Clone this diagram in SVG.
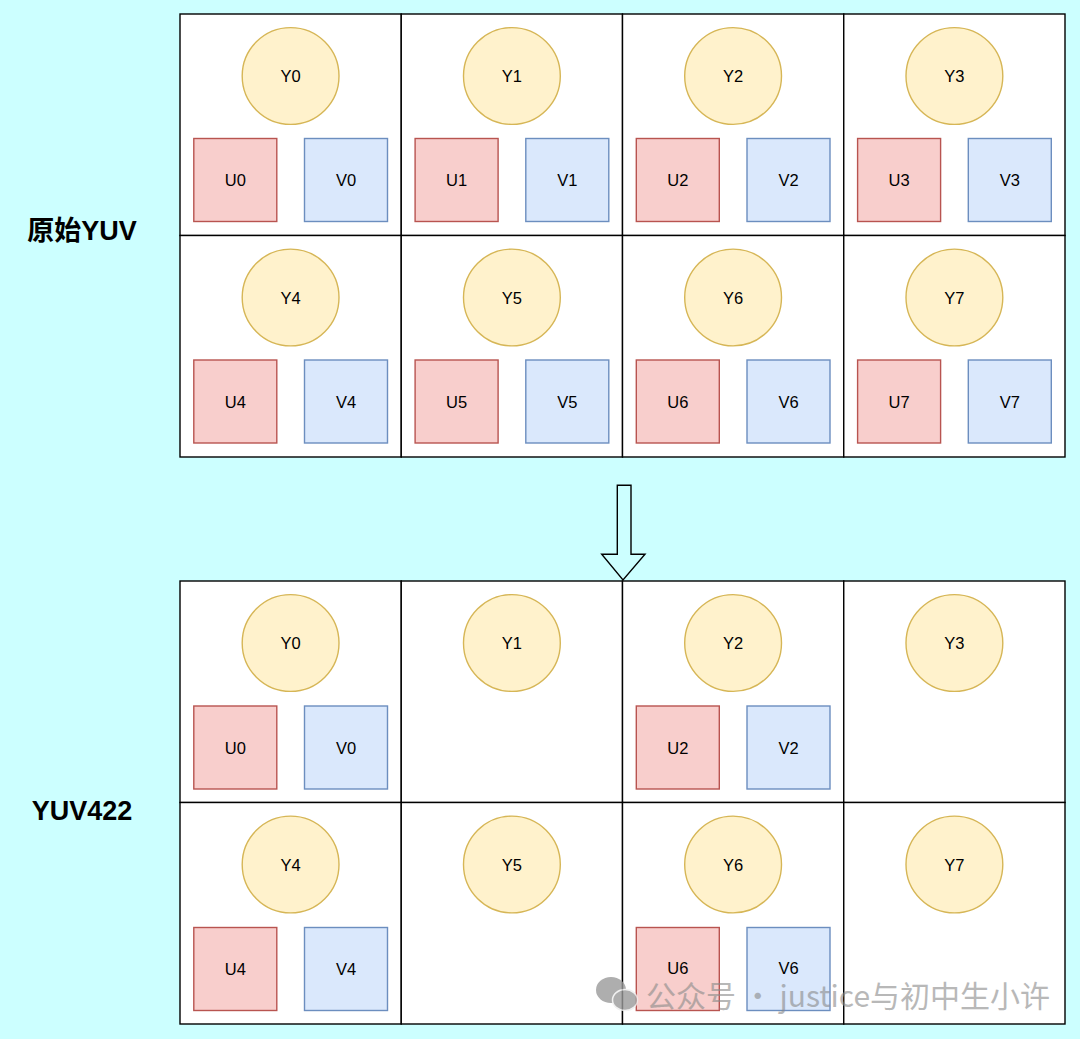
<svg xmlns="http://www.w3.org/2000/svg" width="1080" height="1039" viewBox="0 0 1080 1039">
<defs>
<style>
.bg{fill:#ccffff}
.cell{fill:#ffffff;stroke:#000000;stroke-width:1.4}
.y{fill:#fff2cc;stroke:#d6b656;stroke-width:1.4}
.u{fill:#f8cecc;stroke:#b85450;stroke-width:1.4}
.v{fill:#dae8fc;stroke:#6c8ebf;stroke-width:1.4}
.t{font-family:"Liberation Sans",Arial,sans-serif;font-size:16.5px;fill:#000;text-anchor:middle}
.lbl{font-family:"Liberation Sans","Noto Sans CJK SC",sans-serif;font-size:27px;font-weight:bold;fill:#000;text-anchor:middle}
.wm{font-family:"Noto Sans CJK SC","Noto Sans",sans-serif;font-size:30px;fill:#8a8a8a;opacity:0.75}
</style>
</defs>
<rect class="bg" x="0" y="0" width="1080" height="1039"/>

<g id="label-original"><text class="lbl" x="82" y="240">原始YUV</text></g>
<g id="label-yuv422"><text class="lbl" x="82" y="820">YUV422</text></g>

<!-- Top grid -->
<g id="top-grid">
<g id="t-cell0"><rect class="cell" x="180" y="14" width="221.25" height="221.5"/>
<g id="t-y0"><circle class="y" cx="290.6" cy="76" r="48.4"/><text class="t" x="290.6" y="82">Y0</text></g>
<g id="t-u0"><rect class="u" x="193.8" y="138.5" width="83" height="83"/><text class="t" x="235.3" y="186">U0</text></g>
<g id="t-v0"><rect class="v" x="304.5" y="138.5" width="83" height="83"/><text class="t" x="346" y="186">V0</text></g></g>
<g id="t-cell1"><rect class="cell" x="401.25" y="14" width="221.25" height="221.5"/>
<g id="t-y1"><circle class="y" cx="511.9" cy="76" r="48.4"/><text class="t" x="511.9" y="82">Y1</text></g>
<g id="t-u1"><rect class="u" x="415.1" y="138.5" width="83" height="83"/><text class="t" x="456.6" y="186">U1</text></g>
<g id="t-v1"><rect class="v" x="525.8" y="138.5" width="83" height="83"/><text class="t" x="567.3" y="186">V1</text></g></g>
<g id="t-cell2"><rect class="cell" x="622.5" y="14" width="221.25" height="221.5"/>
<g id="t-y2"><circle class="y" cx="733.1" cy="76" r="48.4"/><text class="t" x="733.1" y="82">Y2</text></g>
<g id="t-u2"><rect class="u" x="636.3" y="138.5" width="83" height="83"/><text class="t" x="677.8" y="186">U2</text></g>
<g id="t-v2"><rect class="v" x="747" y="138.5" width="83" height="83"/><text class="t" x="788.5" y="186">V2</text></g></g>
<g id="t-cell3"><rect class="cell" x="843.75" y="14" width="221.25" height="221.5"/>
<g id="t-y3"><circle class="y" cx="954.4" cy="76" r="48.4"/><text class="t" x="954.4" y="82">Y3</text></g>
<g id="t-u3"><rect class="u" x="857.6" y="138.5" width="83" height="83"/><text class="t" x="899.1" y="186">U3</text></g>
<g id="t-v3"><rect class="v" x="968.3" y="138.5" width="83" height="83"/><text class="t" x="1009.8" y="186">V3</text></g></g>

<g id="t-cell4"><rect class="cell" x="180" y="235.5" width="221.25" height="221.5"/>
<g id="t-y4"><circle class="y" cx="290.6" cy="297.5" r="48.4"/><text class="t" x="290.6" y="303.5">Y4</text></g>
<g id="t-u4"><rect class="u" x="193.8" y="360" width="83" height="83"/><text class="t" x="235.3" y="407.5">U4</text></g>
<g id="t-v4"><rect class="v" x="304.5" y="360" width="83" height="83"/><text class="t" x="346" y="407.5">V4</text></g></g>
<g id="t-cell5"><rect class="cell" x="401.25" y="235.5" width="221.25" height="221.5"/>
<g id="t-y5"><circle class="y" cx="511.9" cy="297.5" r="48.4"/><text class="t" x="511.9" y="303.5">Y5</text></g>
<g id="t-u5"><rect class="u" x="415.1" y="360" width="83" height="83"/><text class="t" x="456.6" y="407.5">U5</text></g>
<g id="t-v5"><rect class="v" x="525.8" y="360" width="83" height="83"/><text class="t" x="567.3" y="407.5">V5</text></g></g>
<g id="t-cell6"><rect class="cell" x="622.5" y="235.5" width="221.25" height="221.5"/>
<g id="t-y6"><circle class="y" cx="733.1" cy="297.5" r="48.4"/><text class="t" x="733.1" y="303.5">Y6</text></g>
<g id="t-u6"><rect class="u" x="636.3" y="360" width="83" height="83"/><text class="t" x="677.8" y="407.5">U6</text></g>
<g id="t-v6"><rect class="v" x="747" y="360" width="83" height="83"/><text class="t" x="788.5" y="407.5">V6</text></g></g>
<g id="t-cell7"><rect class="cell" x="843.75" y="235.5" width="221.25" height="221.5"/>
<g id="t-y7"><circle class="y" cx="954.4" cy="297.5" r="48.4"/><text class="t" x="954.4" y="303.5">Y7</text></g>
<g id="t-u7"><rect class="u" x="857.6" y="360" width="83" height="83"/><text class="t" x="899.1" y="407.5">U7</text></g>
<g id="t-v7"><rect class="v" x="968.3" y="360" width="83" height="83"/><text class="t" x="1009.8" y="407.5">V7</text></g></g>
</g>

<!-- Bottom grid -->
<g id="bottom-grid">
<g id="b-cell0"><rect class="cell" x="180" y="581" width="221.25" height="221.5"/>
<g id="b-y0"><circle class="y" cx="290.6" cy="643" r="48.4"/><text class="t" x="290.6" y="649">Y0</text></g>
<g id="b-u0"><rect class="u" x="193.8" y="706" width="83" height="83"/><text class="t" x="235.3" y="753.5">U0</text></g>
<g id="b-v0"><rect class="v" x="304.5" y="706" width="83" height="83"/><text class="t" x="346" y="753.5">V0</text></g></g>
<g id="b-cell1"><rect class="cell" x="401.25" y="581" width="221.25" height="221.5"/>
<g id="b-y1"><circle class="y" cx="511.9" cy="643" r="48.4"/><text class="t" x="511.9" y="649">Y1</text></g></g>
<g id="b-cell2"><rect class="cell" x="622.5" y="581" width="221.25" height="221.5"/>
<g id="b-y2"><circle class="y" cx="733.1" cy="643" r="48.4"/><text class="t" x="733.1" y="649">Y2</text></g>
<g id="b-u2"><rect class="u" x="636.3" y="706" width="83" height="83"/><text class="t" x="677.8" y="753.5">U2</text></g>
<g id="b-v2"><rect class="v" x="747" y="706" width="83" height="83"/><text class="t" x="788.5" y="753.5">V2</text></g></g>
<g id="b-cell3"><rect class="cell" x="843.75" y="581" width="221.25" height="221.5"/>
<g id="b-y3"><circle class="y" cx="954.4" cy="643" r="48.4"/><text class="t" x="954.4" y="649">Y3</text></g></g>

<g id="b-cell4"><rect class="cell" x="180" y="802.5" width="221.25" height="221.5"/>
<g id="b-y4"><circle class="y" cx="290.6" cy="864.5" r="48.4"/><text class="t" x="290.6" y="870.5">Y4</text></g>
<g id="b-u4"><rect class="u" x="193.8" y="927.5" width="83" height="83"/><text class="t" x="235.3" y="975">U4</text></g>
<g id="b-v4"><rect class="v" x="304.5" y="927.5" width="83" height="83"/><text class="t" x="346" y="975">V4</text></g></g>
<g id="b-cell5"><rect class="cell" x="401.25" y="802.5" width="221.25" height="221.5"/>
<g id="b-y5"><circle class="y" cx="511.9" cy="864.5" r="48.4"/><text class="t" x="511.9" y="870.5">Y5</text></g></g>
<g id="b-cell6"><rect class="cell" x="622.5" y="802.5" width="221.25" height="221.5"/>
<g id="b-y6"><circle class="y" cx="733.1" cy="864.5" r="48.4"/><text class="t" x="733.1" y="870.5">Y6</text></g>
<g id="b-u6"><rect class="u" x="636.3" y="927.5" width="83" height="83"/><text class="t" x="677.8" y="974">U6</text></g>
<g id="b-v6"><rect class="v" x="747" y="927.5" width="83" height="83"/><text class="t" x="788.5" y="974">V6</text></g></g>
<g id="b-cell7"><rect class="cell" x="843.75" y="802.5" width="221.25" height="221.5"/>
<g id="b-y7"><circle class="y" cx="954.4" cy="864.5" r="48.4"/><text class="t" x="954.4" y="870.5">Y7</text></g></g>
</g>

<g id="connectors">
<polygon points="617.3,485.3 631,485.3 631,554.3 645,554.3 623,580 601.7,554.3 617.3,554.3" fill="none" stroke="#000" stroke-width="1.4" stroke-linejoin="miter"/>
</g>

<g id="watermark" opacity="0.8">
<ellipse cx="611" cy="990" rx="15" ry="13" fill="#9a9a9a"/>
<ellipse cx="625" cy="1000" rx="12.5" ry="10.5" fill="#9a9a9a" stroke="#eeeeee" stroke-width="1.5"/>
<text class="wm" x="646" y="1007">公众号 · justice与初中生小许</text>
</g>
</svg>
